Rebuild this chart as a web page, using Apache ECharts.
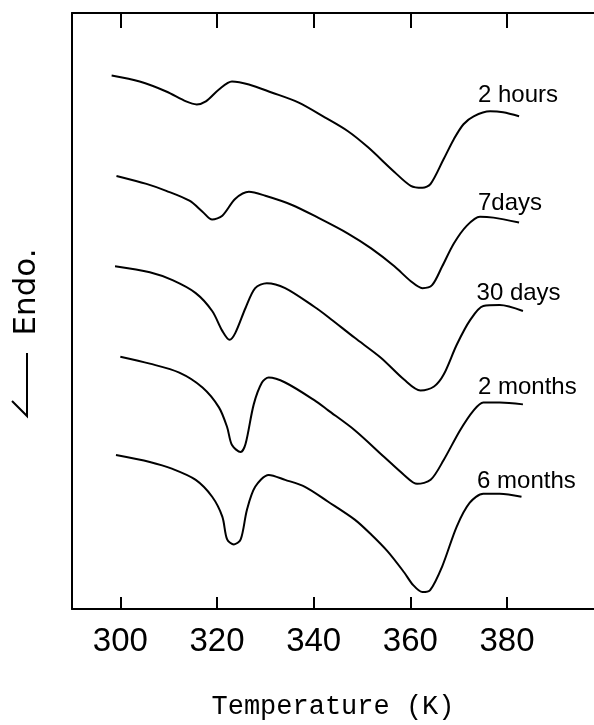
<!DOCTYPE html>
<html>
<head>
<meta charset="utf-8">
<script src="https://cdn.jsdelivr.net/npm/echarts@6/dist/echarts.min.js"></script>
<style>
html,body{margin:0;padding:0;background:#fff;}
#chart{width:594px;height:725px;}
</style>
</head>
<body>
<div id="chart"></div>
<script>
// Temperature (K) and arbitrary heat-flow signal
const seriesNames = ['2 hours', '7days', '30 days', '2 months', '6 months'];

const temp2h = [298.2, 304.0, 309.5, 313.6, 315.8, 317.7, 320.4, 323.1, 326.6, 331.3, 336.8, 342.3, 347.1, 351.2, 356.7, 360.1, 362.5, 364.2, 366.9, 369.0, 371.0, 373.1, 376.5, 379.2, 382.5];
const sig2h  = [53.7, 53.1, 52.1, 51.1, 50.8, 51.1, 52.3, 53.1, 52.8, 52.0, 51.0, 49.5, 48.1, 46.5, 44.0, 42.6, 42.4, 42.8, 45.3, 47.3, 48.8, 49.6, 50.1, 50.0, 49.6];

const temp7d = [299.2, 305.4, 309.5, 314.3, 317.0, 319.0, 321.1, 323.8, 326.6, 330.0, 335.4, 340.9, 347.1, 351.9, 356.7, 360.1, 362.5, 364.5, 366.6, 369.0, 371.7, 374.4, 377.2, 382.5];
const sig7d  = [43.6, 42.8, 42.1, 41.1, 40.0, 39.2, 39.6, 41.3, 42.0, 41.6, 40.7, 39.4, 37.8, 36.3, 34.5, 33.0, 32.3, 32.6, 34.5, 36.8, 38.6, 39.5, 39.4, 38.9];

const temp30d = [298.9, 306.1, 310.8, 315.6, 319.0, 321.1, 322.6, 323.8, 325.9, 327.9, 330.3, 334.1, 340.2, 343.0, 348.5, 353.9, 358.7, 362.1, 364.9, 366.9, 369.6, 372.4, 375.1, 378.5, 383.3];
const sig30d  = [34.5, 33.9, 33.1, 31.8, 30.0, 28.0, 27.1, 27.8, 30.3, 32.3, 32.8, 32.3, 30.4, 29.4, 27.3, 25.3, 23.1, 22.0, 22.4, 23.6, 26.6, 29.1, 30.5, 30.6, 30.0];

const temp2m = [300.0, 306.1, 312.2, 317.0, 320.4, 322.1, 323.1, 324.9, 325.9, 327.6, 329.3, 330.7, 334.1, 340.2, 343.0, 348.5, 354.6, 358.7, 361.4, 364.2, 366.9, 370.3, 373.1, 375.1, 378.5, 383.3];
const sig2m  = [25.4, 24.7, 23.8, 22.3, 20.3, 18.3, 16.5, 15.8, 16.6, 20.6, 22.8, 23.3, 22.8, 21.0, 20.0, 18.0, 15.3, 13.5, 12.6, 13.0, 15.0, 18.0, 20.0, 20.8, 20.8, 20.6];

const temp6m = [299.1, 306.1, 310.8, 315.6, 319.0, 321.1, 322.1, 323.5, 324.9, 326.2, 327.9, 330.7, 334.1, 338.2, 343.0, 348.5, 351.9, 355.3, 358.7, 360.6, 362.5, 364.1, 366.6, 369.6, 372.3, 375.1, 378.5, 383.0];
const sig6m  = [15.5, 14.8, 14.1, 13.0, 11.3, 9.3, 7.0, 6.5, 7.0, 10.0, 12.3, 13.5, 13.0, 12.3, 10.8, 9.0, 7.5, 5.8, 3.7, 2.4, 1.7, 1.9, 4.3, 8.3, 10.7, 11.6, 11.6, 11.3];

const tickValues = [300, 320, 340, 360, 380];
// label anchors (temperature, signal at text baseline) for the curve names
const labelTemp = [374, 374, 373.7, 374, 373.8];
const labelSig = [51.0, 40.1, 31.1, 21.6, 12.1];

const temps = [temp2h, temp7d, temp30d, temp2m, temp6m];
const sigs = [sig2h, sig7d, sig30d, sig2m, sig6m];

const chart = echarts.init(document.getElementById('chart'), null, {renderer: 'canvas'});

const X_MIN = 290, X_MAX = 398;
const axisLineStyle = {color: '#000', width: 2};

const series = seriesNames.map((name, i) => ({
  name: name,
  type: 'line',
  xAxisIndex: 0,
  yAxisIndex: 0,
  showSymbol: false,
  symbol: 'none',
  smooth: 0.3,
  lineStyle: {color: '#000', width: 2},
  data: temps[i].map((t, j) => [t, sigs[i][j]])
}));

chart.setOption({
  animation: false,
  backgroundColor: '#fff',
  grid: {left: 72, top: 13, width: 526.5, height: 600, containLabel: false},
  xAxis: [{
    type: 'value', position: 'bottom', min: X_MIN, max: X_MAX, interval: 10,
    axisLine: {show: true, onZero: false, lineStyle: axisLineStyle},
    axisTick: {show: true, inside: true, length: 12, customValues: tickValues, lineStyle: {color: '#000', width: 2}},
    axisLabel: {show: true, customValues: tickValues, margin: 16, color: '#000', fontSize: 33, fontFamily: 'Liberation Sans'},
    splitLine: {show: false},
    name: 'Temperature (K)', nameLocation: 'middle', nameGap: 84,
    nameTextStyle: {color: '#000', fontSize: 27, fontFamily: 'Liberation Mono'}
  }, {
    type: 'value', position: 'top', min: X_MIN, max: X_MAX, interval: 10,
    axisLine: {show: true, onZero: false, lineStyle: axisLineStyle},
    axisTick: {show: true, inside: true, length: 15, customValues: tickValues, lineStyle: {color: '#000', width: 2}},
    axisLabel: {show: false},
    splitLine: {show: false}
  }],
  yAxis: {
    type: 'value', min: 0, max: 60,
    axisLine: {show: true, onZero: false, lineStyle: axisLineStyle},
    axisTick: {show: false}, axisLabel: {show: false}, splitLine: {show: false}
  },
  series: series
});

// curve labels and y-axis label
const graphics = [];
seriesNames.forEach((name, i) => {
  const p = chart.convertToPixel({xAxisIndex: 0, yAxisIndex: 0}, [labelTemp[i], labelSig[i]]);
  graphics.push({
    type: 'text', x: p[0], y: p[1] + 5,
    style: {text: name, fill: '#000', font: '24px "Liberation Sans"', textAlign: 'left', textVerticalAlign: 'bottom'}
  });
});
graphics.push({
  type: 'text', x: 27, y: 292, rotation: Math.PI / 2,
  style: {text: 'Endo.', fill: '#000', font: '31px "DejaVu Sans"', textAlign: 'center', textVerticalAlign: 'middle'}
});
graphics.push({
  type: 'polyline',
  shape: {points: [[27, 353], [27, 416], [12, 401]]},
  style: {stroke: '#000', lineWidth: 2, fill: null}
});
chart.setOption({graphic: graphics});
</script>
</body>
</html>
